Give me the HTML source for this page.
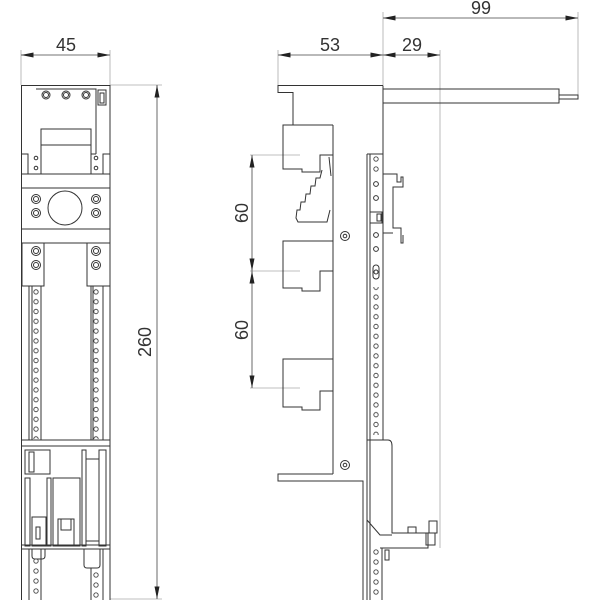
<!DOCTYPE html>
<html><head><style>body{margin:0;background:#fff}svg{display:block}text{font-family:"Liberation Sans",Arial,sans-serif}</style></head>
<body>
<svg width="600" height="600" viewBox="0 0 600 600" xmlns="http://www.w3.org/2000/svg">
<defs>
<pattern id="hl" x="31" y="287" width="10" height="9.8" patternUnits="userSpaceOnUse"><circle cx="5" cy="4.9" r="2.2" fill="none" stroke="#444" stroke-width="0.9"/></pattern>
<pattern id="hr" x="91" y="287" width="10" height="9.8" patternUnits="userSpaceOnUse"><circle cx="5" cy="4.9" r="2.2" fill="none" stroke="#444" stroke-width="0.9"/></pattern>
<pattern id="hs" x="371" y="155" width="10" height="9.8" patternUnits="userSpaceOnUse"><circle cx="5" cy="4.9" r="2.2" fill="none" stroke="#444" stroke-width="0.9"/></pattern>
<marker id="a" viewBox="0 0 10 4" refX="10" refY="2" markerWidth="16" markerHeight="5" markerUnits="userSpaceOnUse" orient="auto-start-reverse"><path d="M0,0L10,2L0,4z" fill="#222"/></marker>
</defs>
<g stroke="#aaa" stroke-width="0.8" fill="none">
<line x1="21" y1="50" x2="21" y2="85"/><line x1="110" y1="50" x2="110" y2="85"/>
<line x1="110" y1="85" x2="162" y2="85"/><line x1="110" y1="599" x2="162" y2="599"/>
<line x1="278" y1="50" x2="278" y2="85"/><line x1="383" y1="12" x2="383" y2="85"/>
<line x1="440" y1="50" x2="440" y2="548"/><line x1="578" y1="12" x2="578" y2="95"/>
<line x1="250" y1="155" x2="300" y2="155"/><line x1="250" y1="271" x2="300" y2="271"/><line x1="250" y1="388" x2="300" y2="388"/>
</g>
<g stroke="#444" stroke-width="0.8" marker-start="url(#a)" marker-end="url(#a)">
<line x1="21" y1="55" x2="110" y2="55"/>
<line x1="157" y1="85" x2="157" y2="599"/>
<line x1="278" y1="55" x2="383" y2="55"/>
<line x1="383" y1="55" x2="440" y2="55"/>
<line x1="383" y1="18" x2="578" y2="18"/>
<line x1="252" y1="155" x2="252" y2="271"/>
<line x1="252" y1="271" x2="252" y2="388"/>
</g>
<g font-size="18" fill="#333" text-anchor="middle">
<text x="66" y="51">45</text>
<text x="330" y="51">53</text>
<text x="412" y="51">29</text>
<text x="481" y="14">99</text>
<text transform="translate(151,342) rotate(-90)">260</text>
<text transform="translate(248,213) rotate(-90)">60</text>
<text transform="translate(248,330) rotate(-90)">60</text>
</g>
<!-- left view -->
<g stroke="#333" stroke-width="1" fill="none">
<rect x="21.5" y="85.5" width="88.5" height="520"/>
<polyline points="36,89 96,89 96,154"/>
<circle cx="46" cy="95" r="4"/><circle cx="46" cy="95" r="2.5"/>
<circle cx="66" cy="95" r="4"/><circle cx="66" cy="95" r="2.5"/>
<circle cx="86" cy="95" r="4"/><circle cx="86" cy="95" r="2.5"/>
<rect x="98" y="90" width="8" height="15"/><rect x="100" y="93" width="4" height="10"/>
<rect x="41" y="129" width="50" height="45"/><line x1="41" y1="145" x2="91" y2="145"/>
<polyline points="21,154 28,154 28,174"/><polyline points="110,154 103,154 103,174"/>
<line x1="91" y1="154" x2="96" y2="154"/><line x1="91" y1="154" x2="91" y2="174"/>
<circle cx="36" cy="158" r="1.8"/><circle cx="36" cy="168" r="1.8"/>
<circle cx="96" cy="158" r="1.8"/><circle cx="96" cy="168" r="1.8"/>
<line x1="21" y1="174" x2="110" y2="174"/><line x1="21" y1="188" x2="110" y2="188"/>
<line x1="21" y1="229" x2="110" y2="229"/><line x1="21" y1="243" x2="110" y2="243"/>
<circle cx="65" cy="208" r="17"/>
<circle cx="36" cy="199" r="4.5"/><circle cx="36" cy="199" r="2.5"/>
<circle cx="36" cy="213" r="4.5"/><circle cx="36" cy="213" r="2.5"/>
<circle cx="96" cy="199" r="4.5"/><circle cx="96" cy="199" r="2.5"/>
<circle cx="96" cy="213" r="4.5"/><circle cx="96" cy="213" r="2.5"/>
<polyline points="22,243 22,286 44,286 44,243"/><polyline points="110,243 110,286 87,286 87,243"/>
<circle cx="36" cy="251" r="4.5"/><circle cx="36" cy="251" r="2.5"/>
<circle cx="36" cy="265" r="4.5"/><circle cx="36" cy="265" r="2.5"/>
<circle cx="96" cy="251" r="4.5"/><circle cx="96" cy="251" r="2.5"/>
<circle cx="96" cy="265" r="4.5"/><circle cx="96" cy="265" r="2.5"/>
<line x1="29" y1="286" x2="29" y2="440"/><line x1="32" y1="286" x2="32" y2="440"/><line x1="41" y1="286" x2="41" y2="440"/>
<line x1="91" y1="286" x2="91" y2="440"/><line x1="93" y1="286" x2="93" y2="440"/><line x1="103" y1="286" x2="103" y2="440"/>
<line x1="21" y1="440" x2="110" y2="440"/><line x1="21" y1="446" x2="110" y2="446"/>
<rect x="25" y="450" width="25" height="24"/><rect x="29" y="452" width="5" height="20"/>
<rect x="25" y="478" width="5" height="68"/><rect x="47" y="478" width="4" height="68"/>
<rect x="32" y="517" width="14" height="29"/><rect x="36" y="527" width="4" height="12"/>
<rect x="53" y="478" width="27" height="68"/>
<path d="M58,546 V519 H74 V546 M61,519 V530 H71 V519"/>
<rect x="82" y="450" width="4" height="96"/><rect x="99" y="450" width="7" height="96"/>
<rect x="86" y="459" width="13" height="82"/>
<line x1="21" y1="545" x2="110" y2="545"/><line x1="21" y1="549" x2="110" y2="549"/>
<path d="M32,549 V556 Q32,559 35,559 H42 Q45,559 45,556 V549"/>
<path d="M84,549 V565 Q84,568 87,568 H97 Q100,568 100,565 V549"/>
<line x1="29" y1="549" x2="29" y2="600"/><line x1="41" y1="549" x2="41" y2="600"/>
<line x1="91" y1="568" x2="91" y2="600"/><line x1="103" y1="549" x2="103" y2="600"/>
</g>
<rect x="31" y="287" width="10" height="152" fill="url(#hl)"/>
<rect x="91" y="287" width="10" height="152" fill="url(#hr)"/>
<g stroke="#444" stroke-width="0.9" fill="none">
<circle cx="36" cy="561" r="2.2"/><circle cx="36" cy="571" r="2.2"/><circle cx="36" cy="581" r="2.2"/><circle cx="36" cy="591" r="2.2"/>
<circle cx="96" cy="575" r="2.2"/><circle cx="96" cy="585" r="2.2"/><circle cx="96" cy="595" r="2.2"/>
</g>
<!-- right view -->
<g stroke="#333" stroke-width="1" fill="none">
<path d="M383,85.5 H278 V92.5 H293 V125 H283 V169 H302 V172 H320 V155 H333"/>
<path d="M333,125 H293"/>
<path d="M383,85.5 V155"/>
<path d="M383,89 H559 V95 H578 V99 H559 V103 H383"/><line x1="559" y1="95" x2="559" y2="99"/>
<line x1="333" y1="125" x2="333" y2="474"/>
<path d="M333,155 V172 M329,157 L331,176"/>
<path d="M322,170 L320,178 L316,178 L315,186 L311,186 L310,194 L306,194 L305,202 L301,202 L300,210 L297,210 L296,218 L298,222 L327,222 L330,210"/>
<path d="M333,241 H283 V288 H302 V291 H320 V271 H333"/>
<path d="M333,359 H283 V407 H302 V410 H320 V391 H333"/>
<circle cx="345" cy="236" r="4.5"/><circle cx="345" cy="236" r="1.8"/>
<circle cx="345" cy="465" r="4.5"/><circle cx="345" cy="465" r="1.8"/>
<path d="M333,474 H278 V481 H363 V600"/>
<line x1="367" y1="154" x2="367" y2="600"/><line x1="370" y1="154" x2="370" y2="600"/>
<line x1="383" y1="154" x2="383" y2="440"/><line x1="367" y1="154" x2="383" y2="154"/>
<path d="M383,174 H397 V182 H401 V177 H403 V187 H393 V228 H401 V243 H403 V235"/>
<path d="M383,174 V182 M383,233 H393"/>
<rect x="370" y="212" width="12" height="11"/><rect x="377" y="214" width="4" height="7"/>
<circle cx="376" cy="184" r="2.4"/><circle cx="376" cy="198" r="2.4"/><circle cx="376" cy="235" r="2.4"/><circle cx="376" cy="249" r="2.4"/>
<rect x="373" y="265" width="6" height="14" rx="3"/><circle cx="376" cy="272" r="2"/>
<path d="M367,440 H388 Q392,440 392,446 V533 H428 V548 H380"/>
<path d="M367,520 L380,535 H392"/>
<rect x="408" y="527" width="8" height="6"/><rect x="429" y="521" width="8" height="12"/>
<rect x="426" y="533" width="9" height="12"/>
<line x1="382" y1="548" x2="382" y2="600"/>
<rect x="385" y="550" width="4" height="10"/>
</g>
<rect x="371" y="287" width="10" height="148" fill="url(#hs)"/>
<g stroke="#444" stroke-width="0.9" fill="none">
<circle cx="376" cy="159" r="2.2"/><circle cx="376" cy="169" r="2.2"/>
<circle cx="376" cy="552" r="2.2"/><circle cx="376" cy="562" r="2.2"/><circle cx="376" cy="572" r="2.2"/><circle cx="376" cy="582" r="2.2"/><circle cx="376" cy="592" r="2.2"/>
</g>
</svg>
</body></html>
